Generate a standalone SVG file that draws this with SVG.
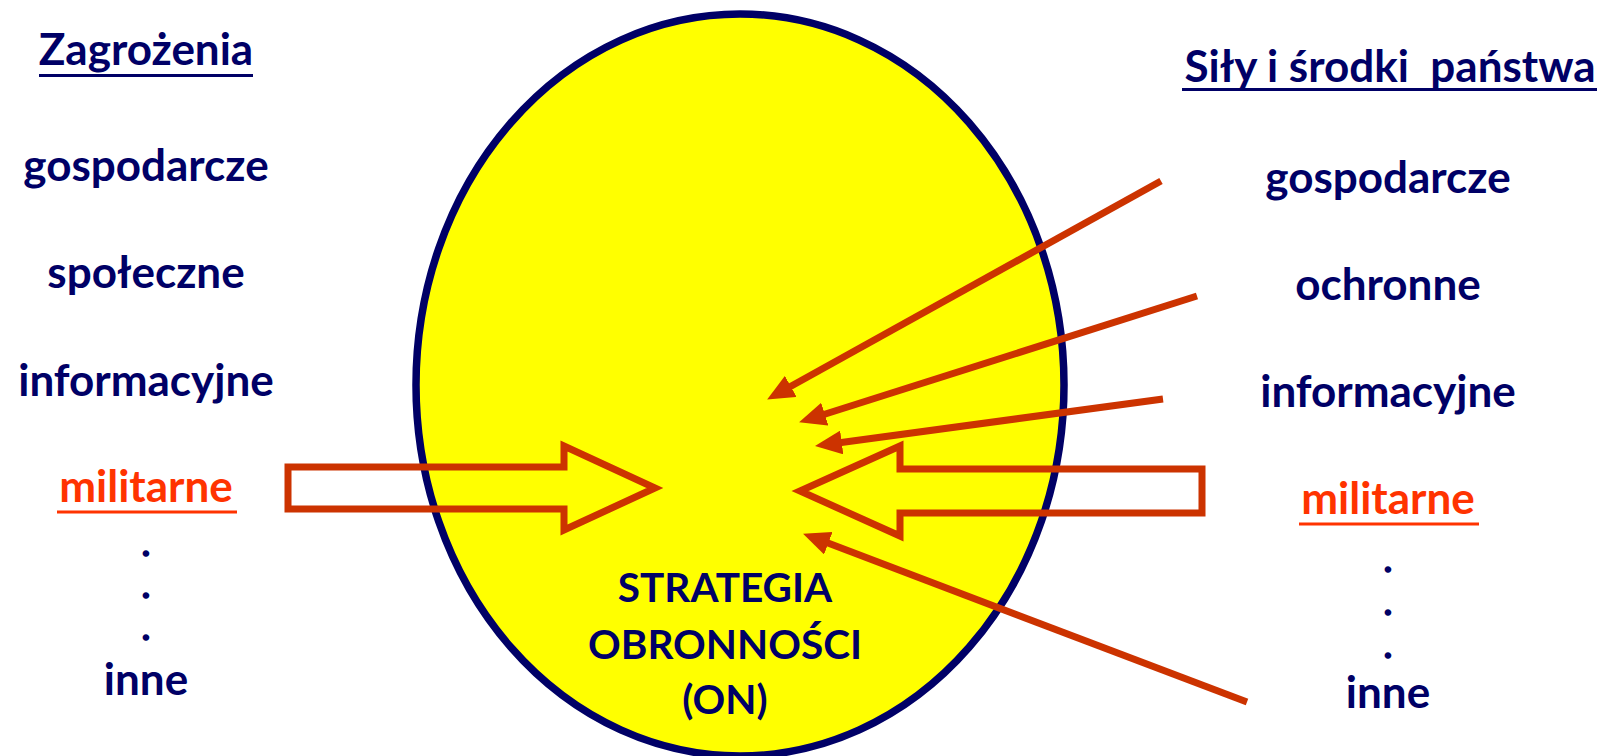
<svg xmlns="http://www.w3.org/2000/svg" width="1602" height="756" viewBox="0 0 1602 756">
<style>
.t{font-family:Lato,"Open Sans","Liberation Sans",sans-serif;font-weight:bold;font-size:44px;fill:#000066;text-anchor:middle;white-space:pre}
.d{font-size:33px;stroke:#000066;stroke-width:1.6}
.m{fill:#FF3300}
.c{font-size:40.5px}
.ul{stroke:#000066;stroke-width:3}
.ulm{stroke:#FF3300;stroke-width:3}
.arr{fill:none;stroke:#CC3300;stroke-width:7}
.blk{fill:none;stroke:#CC3300;stroke-width:7;stroke-linejoin:miter}
</style>
<defs>
<marker id="ah" markerUnits="userSpaceOnUse" markerWidth="28" markerHeight="24" refX="6" refY="12" orient="auto">
<path d="M0,0 L27,12 L0,24 Z" fill="#CC3300"/>
</marker>
</defs>
<rect width="1602" height="756" fill="#FFFFFF"/>
<g id="ellipse">
<ellipse cx="740" cy="385" rx="324" ry="371" fill="#FFFF00" stroke="#000066" stroke-width="7.5"/>
<text class="t c" x="725" y="602">STRATEGIA</text>
<text class="t c" x="725" y="659">OBRONNOŚCI</text>
<text class="t c" x="725" y="714">(ON)</text>
</g>
<g id="left">
<text class="t" x="146" y="65">Zagrożenia</text>
<line class="ul" x1="39" y1="75.5" x2="253" y2="75.5"/>
<text class="t" x="146" y="181">gospodarcze</text>
<text class="t" x="146" y="288">społeczne</text>
<text class="t" x="146" y="396">informacyjne</text>
<text class="t m" x="146" y="502">militarne</text>
<line class="ulm" x1="57" y1="512" x2="237" y2="512"/>
<text class="t d" x="146" y="556">.</text>
<text class="t d" x="146" y="598">.</text>
<text class="t d" x="146" y="640">.</text>
<text class="t" x="146" y="695">inne</text>
</g>
<g id="right">
<text class="t" x="1390" y="82">Siły i środki  państwa</text>
<line class="ul" x1="1182" y1="89.5" x2="1597" y2="89.5"/>
<text class="t" x="1388" y="193">gospodarcze</text>
<text class="t" x="1388" y="300">ochronne</text>
<text class="t" x="1388" y="407">informacyjne</text>
<text class="t m" x="1388" y="514">militarne</text>
<line class="ulm" x1="1299" y1="524" x2="1479" y2="524"/>
<text class="t d" x="1388" y="572">.</text>
<text class="t d" x="1388" y="615">.</text>
<text class="t d" x="1388" y="658">.</text>
<text class="t" x="1388" y="708">inne</text>
</g>
<g id="connectors">
<path class="blk" d="M288,467 L564,467 L564,446 L655,488 L564,530 L564,509 L288,509 Z"/>
<path class="blk" d="M1202,469 L900,469 L900,446 L800,491 L900,536 L900,513 L1202,513 Z"/>
<line class="arr" x1="1161" y1="181" x2="785.5" y2="389.3" marker-end="url(#ah)"/>
<line class="arr" x1="1197" y1="296" x2="819.1" y2="416" marker-end="url(#ah)"/>
<line class="arr" x1="1163" y1="399" x2="835.8" y2="443.3" marker-end="url(#ah)"/>
<line class="arr" x1="1247" y1="702" x2="822.7" y2="541.1" marker-end="url(#ah)"/>
</g>
</svg>
